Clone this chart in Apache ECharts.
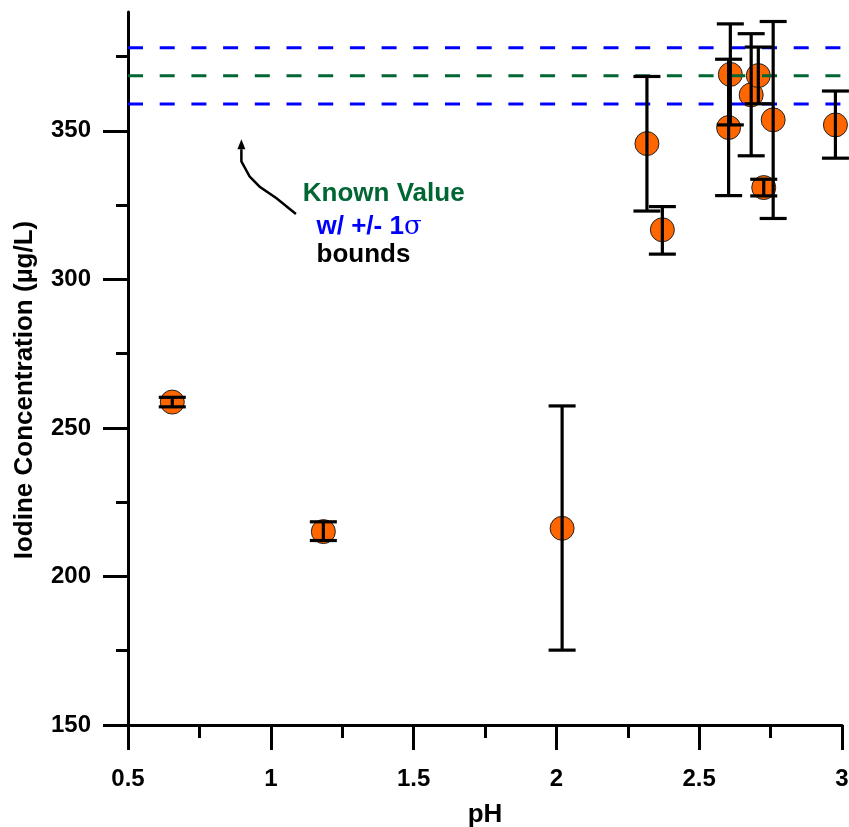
<!DOCTYPE html>
<html>
<head>
<meta charset="utf-8">
<script src="https://cdn.jsdelivr.net/npm/echarts@6/dist/echarts.min.js"></script>
<style>
html,body{margin:0;padding:0;background:#fff;}
#chart{width:849px;height:827px;}
</style>
</head>
<body>
<div id="chart"></div>
<script>
// ---- data ----
const phValues = [0.655, 1.184, 2.02, 2.317, 2.371, 2.609, 2.603, 2.682, 2.707, 2.726, 2.759, 2.977];
const iodine   = [258.7, 215.1, 216.2, 345.7, 316.7, 369.0, 351.1, 362.1, 368.6, 330.9, 353.7, 352.0];
const errLow   = [257.1, 212.1, 175.2, 323.0, 308.5, 352.0, 328.2, 341.6, 359.1, 328.1, 320.5, 340.8];
const errHigh  = [260.3, 218.4, 257.4, 368.3, 324.5, 386.0, 374.1, 382.7, 378.2, 333.7, 386.8, 363.4];
const knownValue = 368.5;
const sigma = 9.5;
const xTickValues = [0.5, 1, 1.5, 2, 2.5, 3];
const yMajorTicks = [150, 200, 250, 300, 350];
const yMinorTicks = [175, 225, 275, 325, 375];
// annotation arrow path (data coordinates: pH, concentration)
const arrowPH  = [0.897, 0.897, 0.926, 0.961, 1.020, 1.088];
const arrowVal = [347.2, 339.7, 334.6, 331.2, 327.3, 322.0];
const noteLines = ['Known Value', 'w/ +/- 1', 'bounds'];
const notePos = [[1.112, 328.8], [1.160, 317.7], [1.160, 308.4]];

const FONT = '"Liberation Sans", Arial, sans-serif';
const chart = echarts.init(document.getElementById('chart'), null, {renderer: 'canvas'});

const boundLine = (v, color) => ({
  type: 'line', silent: true, symbol: 'none', z: 3,
  data: [[xTickValues[0], v], [xTickValues[xTickValues.length - 1], v]],
  lineStyle: {color: color, width: 3, type: [15, 16.7], cap: 'butt'}
});

const option = {
  animation: false,
  backgroundColor: '#fff',
  grid: {left: 128, right: 7, top: 12, bottom: 102, containLabel: false, outerBoundsMode: 'none'},
  xAxis: {
    type: 'value', min: 0.5, max: 3, interval: 0.5,
    name: 'pH', nameLocation: 'middle', nameGap: 77,
    nameTextStyle: {fontFamily: FONT, fontWeight: 'bold', fontSize: 26, color: '#000'},
    axisLine: {show: true, lineStyle: {color: '#000', width: 3}},
    axisTick: {show: true, inside: false, length: 25, lineStyle: {color: '#000', width: 3}},
    minorTick: {show: true, splitNumber: 2, length: 13, lineStyle: {color: '#000', width: 3}},
    axisLabel: {fontFamily: FONT, fontWeight: 'bold', fontSize: 24, color: '#000', margin: 42},
    splitLine: {show: false}, minorSplitLine: {show: false}
  },
  yAxis: [{
    type: 'value', min: 150, max: 390, position: 'left',
    axisLine: {show: true, onZero: false, lineStyle: {color: '#000', width: 3}},
    axisTick: {show: true, inside: false, length: 25, customValues: yMajorTicks, lineStyle: {color: '#000', width: 3}},
    axisLabel: {customValues: yMajorTicks, fontFamily: FONT, fontWeight: 'bold', fontSize: 24, color: '#000', margin: 37},
    splitLine: {show: false}
  }, {
    type: 'value', min: 150, max: 390, position: 'left',
    axisLine: {show: false},
    axisTick: {show: true, inside: false, length: 12, customValues: yMinorTicks, lineStyle: {color: '#000', width: 3}},
    axisLabel: {show: false},
    splitLine: {show: false}
  }],
  graphic: [{
    type: 'text', x: 24.5, y: 390, rotation: Math.PI / 2,
    style: {text: 'Iodine Concentration (µg/L)', font: 'bold 26px ' + FONT, fill: '#000', align: 'center', verticalAlign: 'middle'}
  }],
  series: [
    {
      type: 'scatter', z: 2, symbol: 'circle', symbolSize: 24,
      data: phValues.map((x, i) => [x, iodine[i]]),
      itemStyle: {color: '#FF6600', borderColor: '#222', borderWidth: 1, opacity: 1}
    },
    boundLine(knownValue + sigma, '#0000FF'),
    boundLine(knownValue, '#006633'),
    boundLine(knownValue - sigma, '#0000FF'),
    {
      type: 'custom', z: 4, silent: true,
      data: phValues.map((x, i) => [x, errLow[i], errHigh[i]]),
      encode: {x: 0, y: [1, 2]},
      renderItem: function (params, api) {
        const x = api.value(0);
        const pLo = api.coord([x, api.value(1)]);
        const pHi = api.coord([x, api.value(2)]);
        const hw = 13.5;
        const st = {stroke: '#000', lineWidth: 3.2};
        return {type: 'group', children: [
          {type: 'line', shape: {x1: pLo[0], y1: pLo[1], x2: pHi[0], y2: pHi[1]}, style: st},
          {type: 'line', shape: {x1: pLo[0] - hw, y1: pLo[1], x2: pLo[0] + hw, y2: pLo[1]}, style: st},
          {type: 'line', shape: {x1: pHi[0] - hw, y1: pHi[1], x2: pHi[0] + hw, y2: pHi[1]}, style: st}
        ]};
      }
    },
    {
      type: 'custom', z: 5, silent: true,
      data: [[arrowPH[0], arrowVal[0]]],
      encode: {x: 0, y: 1},
      renderItem: function (params, api) {
        const pts = arrowPH.map((x, i) => api.coord([x, arrowVal[i]]));
        const tip = pts[0];
        const base = [tip[0], tip[1] + 10];
        const children = [
          {type: 'polyline', shape: {points: [base].concat(pts.slice(1))}, style: {stroke: '#000', lineWidth: 2.5, fill: null}},
          {type: 'polygon', shape: {points: [tip, [tip[0] - 4, base[1]], [tip[0] + 4, base[1]]]}, style: {fill: '#000'}}
        ];
        const colors = ['#006633', '#0000FF', '#000'];
        noteLines.forEach((t, i) => {
          const p = api.coord(notePos[i]);
          const style = {x: 0, y: 0, align: 'left', verticalAlign: 'middle', fill: colors[i], font: 'bold 26px ' + FONT};
          if (i === 1) {
            style.text = '{a|' + t + '}{s|σ}';
            style.rich = {
              a: {fill: colors[i], font: 'bold 26px ' + FONT},
              s: {fill: colors[i], font: '26px "DejaVu Serif", serif'}
            };
          } else {
            style.text = t;
          }
          children.push({type: 'text', x: p[0], y: p[1], style: style});
        });
        return {type: 'group', children: children};
      }
    }
  ]
};
chart.setOption(option);
</script>
</body>
</html>
